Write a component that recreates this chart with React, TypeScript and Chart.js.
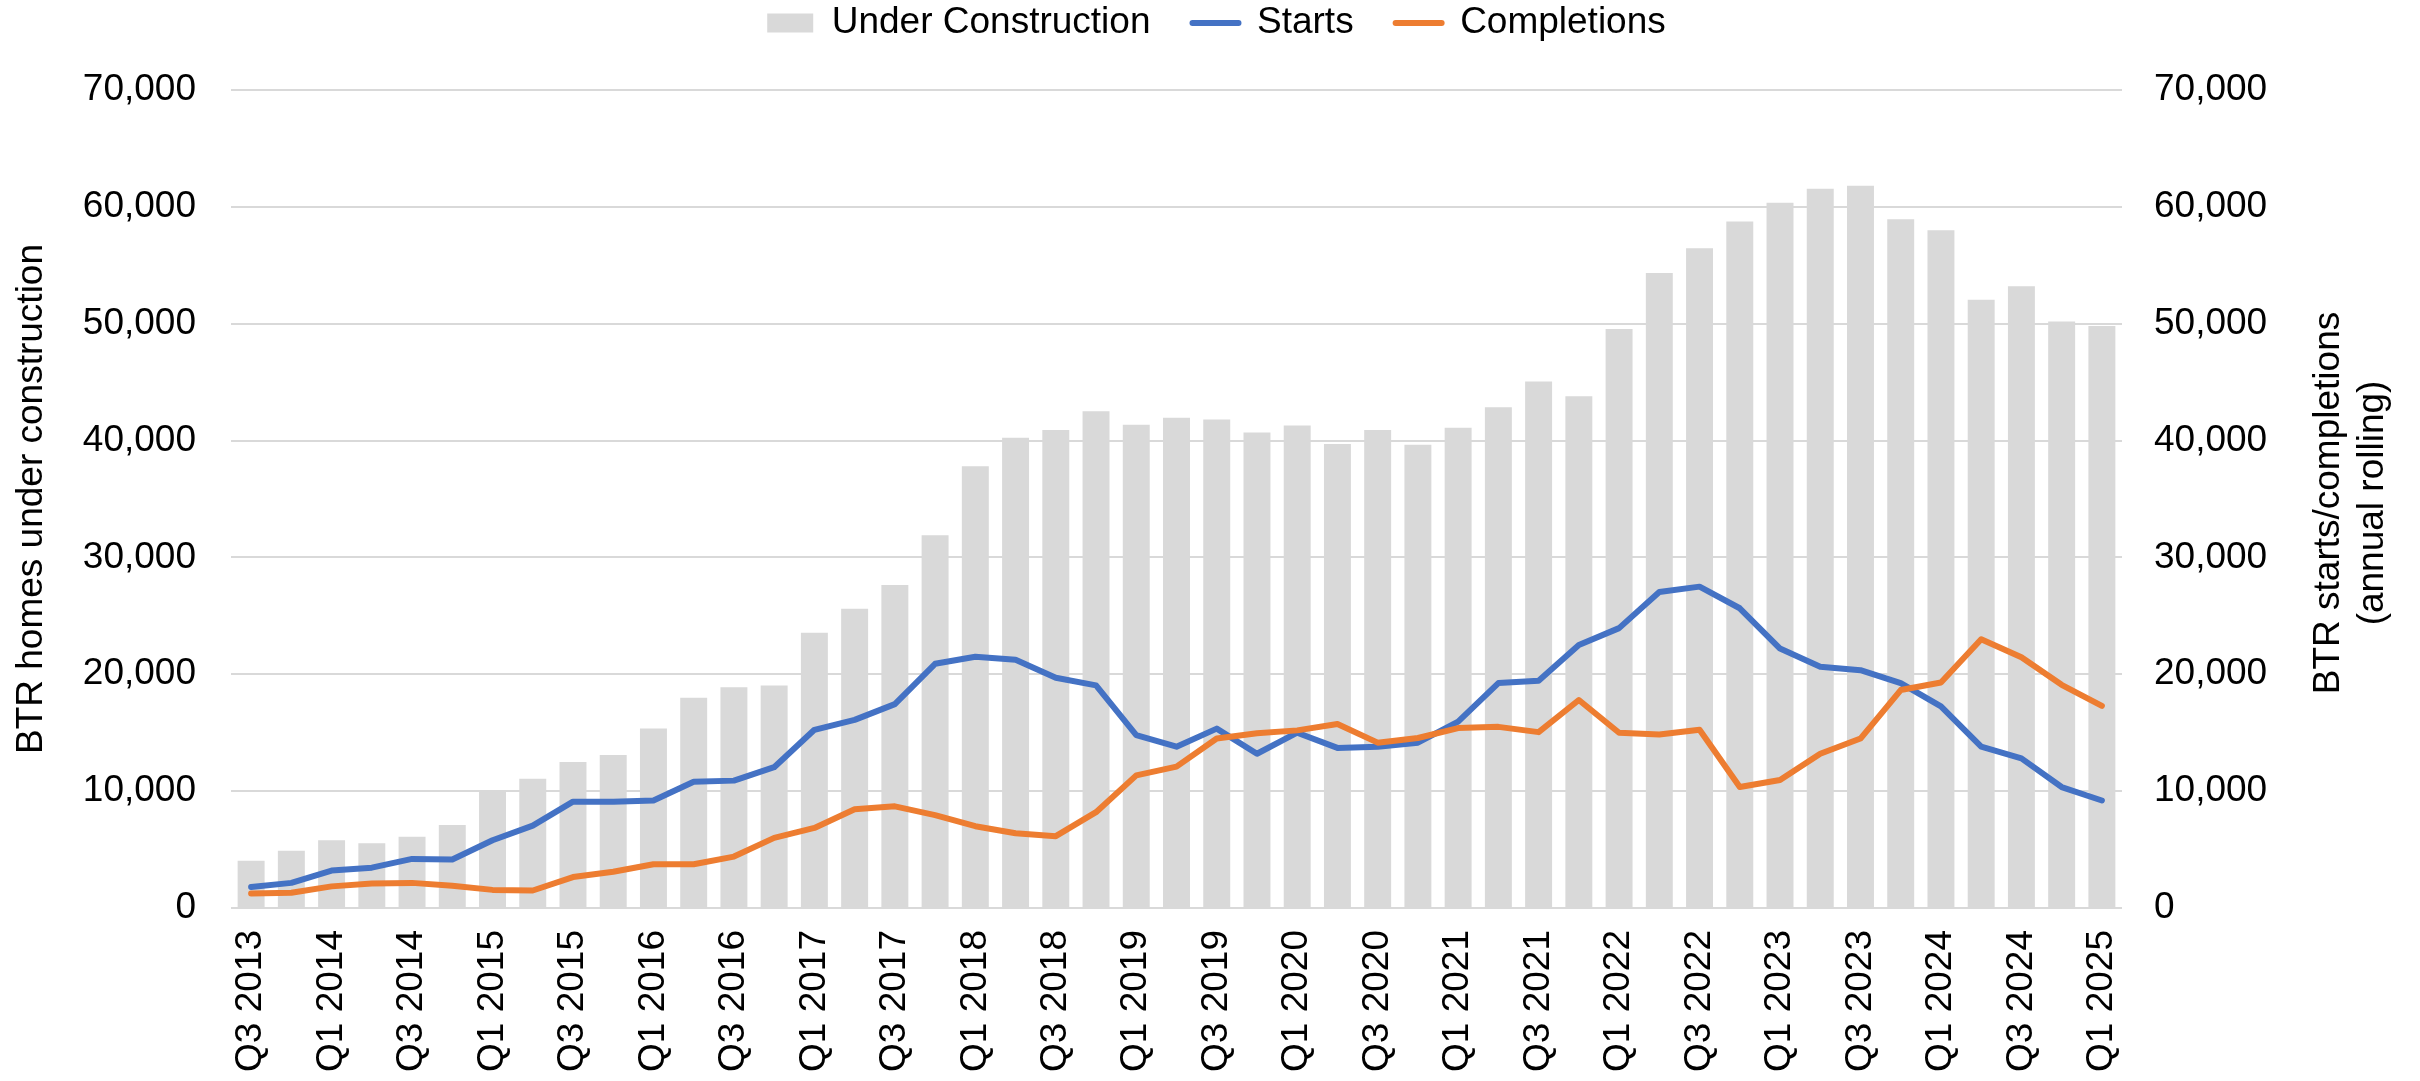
import React, { useEffect, useRef } from "react";
import { Chart, registerables } from "chart.js";

Chart.register(...registerables);

const categories = [
  "Q3 2013", "Q4 2013",
  "Q1 2014", "Q2 2014", "Q3 2014", "Q4 2014",
  "Q1 2015", "Q2 2015", "Q3 2015", "Q4 2015",
  "Q1 2016", "Q2 2016", "Q3 2016", "Q4 2016",
  "Q1 2017", "Q2 2017", "Q3 2017", "Q4 2017",
  "Q1 2018", "Q2 2018", "Q3 2018", "Q4 2018",
  "Q1 2019", "Q2 2019", "Q3 2019", "Q4 2019",
  "Q1 2020", "Q2 2020", "Q3 2020", "Q4 2020",
  "Q1 2021", "Q2 2021", "Q3 2021", "Q4 2021",
  "Q1 2022", "Q2 2022", "Q3 2022", "Q4 2022",
  "Q1 2023", "Q2 2023", "Q3 2023", "Q4 2023",
  "Q1 2024", "Q2 2024", "Q3 2024", "Q4 2024",
  "Q1 2025",
];

const underConstruction = [
  4050, 4900, 5800, 5550, 6100, 7100, 10050, 11050, 12500, 13100,
  15350, 18000, 18900, 19050, 23550, 25600, 27650, 31900, 37800, 40250,
  40900, 42500, 41350, 41950, 41800, 40700, 41300, 39700, 40900, 39650,
  41100, 42850, 45050, 43800, 49550, 54350, 56450, 58750, 60350, 61550,
  61800, 58950, 58000, 52050, 53200, 50200, 49800,
];

const starts = [
  1800, 2150, 3200, 3450, 4200, 4150, 5800, 7050, 9100, 9100,
  9200, 10800, 10900, 12050, 15250, 16100, 17450, 20900, 21500, 21250,
  19700, 19050, 14800, 13800, 15350, 13200, 15000, 13700, 13800, 14150,
  15950, 19250, 19450, 22500, 23950, 27050, 27500, 25650, 22200, 20650,
  20350, 19250, 17250, 13800, 12800, 10350, 9200,
];

const completions = [
  1250, 1300, 1850, 2100, 2150, 1900, 1550, 1500, 2650, 3100,
  3750, 3750, 4400, 6000, 6850, 8450, 8700, 7950, 7000, 6400,
  6150, 8200, 11350, 12100, 14500, 14950, 15200, 15750, 14150, 14550,
  15400, 15500, 15050, 17800, 15000, 14850, 15250, 10350, 10950, 13200,
  14500, 18650, 19300, 23000, 21450, 19100, 17300,
];

const seriesNames = ["Under Construction", "Starts", "Completions"];
const leftTitle = "BTR homes under construction";
const rightTitleLines = ["BTR starts/completions", "(annual rolling)"];

const FONT = '"Liberation Sans", Arial, Helvetica, sans-serif';
const FS = 37;
const LINE_W = 6;

const rightTitlePlugin = {
  id: "rightTitle",
  afterDraw(chart: any) {
    const { ctx, chartArea } = chart;
    ctx.save();
    ctx.font = `${FS}px ${FONT}`;
    ctx.fillStyle = "#000";
    ctx.textAlign = "center";
    ctx.textBaseline = "middle";
    const cy = (chartArea.top + chartArea.bottom) / 2 + 4;
    rightTitleLines.forEach((line, i) => {
      ctx.save();
      ctx.translate(chartArea.right + 207 + i * 44, cy);
      ctx.rotate(-Math.PI / 2);
      ctx.fillText(line, 0, 0);
      ctx.restore();
    });
    ctx.restore();
  },
};

export default function App() {
  const ref = useRef<HTMLCanvasElement | null>(null);

  useEffect(() => {
    if (!ref.current) return;
    Chart.defaults.font.family = FONT;
    Chart.defaults.color = "#000";
    const chart = new Chart(ref.current, {
      type: "bar",
      data: {
        labels: categories,
        datasets: [
          {
            type: "bar",
            label: seriesNames[0],
            data: underConstruction,
            backgroundColor: "#D9D9D9",
            borderWidth: 0,
            barPercentage: 0.67,
            categoryPercentage: 1,
            yAxisID: "y",
            order: 2,
          },
          {
            type: "line",
            label: seriesNames[1],
            data: starts,
            borderColor: "#4472C4",
            backgroundColor: "#4472C4",
            borderWidth: LINE_W,
            pointRadius: 0,
            tension: 0,
            borderCapStyle: "round",
            borderJoinStyle: "round",
            yAxisID: "y1",
            order: 1,
          },
          {
            type: "line",
            label: seriesNames[2],
            data: completions,
            borderColor: "#ED7D31",
            backgroundColor: "#ED7D31",
            borderWidth: LINE_W,
            pointRadius: 0,
            tension: 0,
            borderCapStyle: "round",
            borderJoinStyle: "round",
            yAxisID: "y1",
            order: 0,
          },
        ] as any,
      },
      options: {
        responsive: false,
        maintainAspectRatio: false,
        devicePixelRatio: 1,
        animation: false,
        events: [],
        layout: { padding: { top: -37.5, left: 13, right: 0, bottom: 0 } },
        plugins: {
          tooltip: { enabled: false },
          title: { display: false },
          subtitle: {
            display: true,
            text: "",
            weight: 500,
            font: { size: 1, lineHeight: 1 },
            padding: { top: 0, bottom: 37.5 },
          } as any,
          legend: {
            display: true,
            position: "top",
            labels: {
              color: "#000",
              font: { size: FS, family: FONT },
              usePointStyle: true,
              pointStyleWidth: 46,
              boxHeight: 19,
              padding: 42,
              sort: (a: any, b: any) => a.datasetIndex - b.datasetIndex,
              generateLabels: (c: any) => {
                const items = (Chart.defaults.plugins.legend.labels as any).generateLabels(c);
                return items.map((it: any) => ({
                  ...it,
                  pointStyle: it.datasetIndex === 0 ? "rect" : "line",
                  lineWidth: it.datasetIndex === 0 ? 0 : LINE_W,
                  lineCap: "round",
                }));
              },
            },
          },
        },
        scales: {
          x: {
            grid: { display: false, drawTicks: false },
            border: { display: false },
            ticks: {
              autoSkip: false,
              maxRotation: 90,
              minRotation: 90,
              padding: 22,
              color: "#000",
              font: { size: FS, family: FONT },
              callback: (_v: any, i: number) => (i % 2 === 0 ? categories[i] : ""),
            },
            afterFit: (s: any) => {
              s.height = 173;
            },
          },
          y: {
            position: "left",
            min: 0,
            max: 70000,
            grid: { color: "#D9D9D9", lineWidth: 2, drawTicks: false },
            border: { display: false },
            ticks: {
              stepSize: 10000,
              padding: 35,
              color: "#000",
              font: { size: FS, family: FONT },
              callback: (v: any) => Number(v).toLocaleString("en-US"),
            },
            title: {
              display: true,
              text: leftTitle,
              color: "#000",
              font: { size: FS, family: FONT, lineHeight: 1 },
              padding: 0,
            },
            afterFit: (s: any) => {
              s.width = 218;
            },
          },
          y1: {
            position: "right",
            min: 0,
            max: 70000,
            grid: { display: false, drawTicks: false },
            border: { display: false },
            ticks: {
              stepSize: 10000,
              padding: 32,
              color: "#000",
              font: { size: FS, family: FONT },
              callback: (v: any) => Number(v).toLocaleString("en-US"),
            },
            afterFit: (s: any) => {
              s.width = 298;
            },
          },
        },
      } as any,
      plugins: [rightTitlePlugin],
    });
    return () => chart.destroy();
  }, []);

  return (
    <div style={{ position: "fixed", left: 0, top: 0, width: 2420, height: 1081, overflow: "hidden", background: "#fff" }}>
      <canvas ref={ref} width={2420} height={1081} style={{ display: "block", width: 2420, height: 1081 }} />
    </div>
  );
}
